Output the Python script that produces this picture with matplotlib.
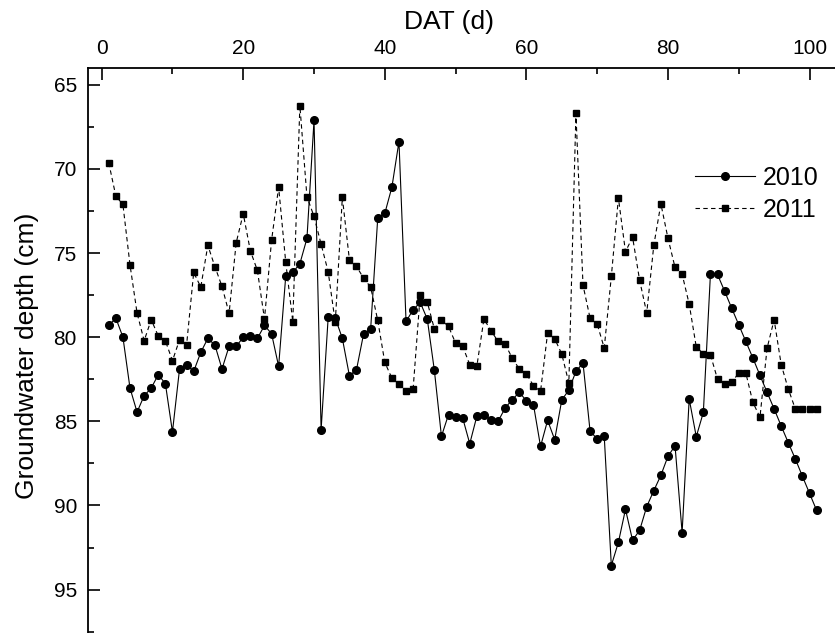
import numpy as np
import matplotlib
matplotlib.use('Agg')
import matplotlib.pyplot as plt
from matplotlib.ticker import MultipleLocator

plt.rcParams['font.family'] = ['Liberation Sans', 'DejaVu Sans']

# day after transplanting
days = np.arange(1, 102)

# groundwater depth (cm)
depth_2010 = [79.30, 78.86, 79.99, 83.02, 84.45, 83.48, 83.02, 82.23, 82.76, 85.63,
              81.89, 81.65, 82.03, 80.90, 80.07, 80.47, 81.89, 80.54, 80.54, 80.01,
              79.95, 80.07, 79.30, 79.79, 81.73, 76.39, 76.15, 75.63, 74.13, 67.10,
              85.50, 78.82, 78.86, 80.07, 82.29, 81.93, 79.81, 79.51, 72.92, 72.64,
              71.08, 68.37, 79.06, 78.37, 77.93, 78.92, 81.97, 85.89, 84.60, 84.74,
              84.80, 86.33, 84.70, 84.60, 84.94, 85.00, 84.21, 83.71, 83.28, 83.77,
              84.01, 86.49, 84.94, 86.09, 83.73, 83.14, 82.03, 81.53, 85.59, 86.04,
              85.90, 93.57, 92.19, 90.23, 92.07, 91.48, 90.07, 89.12, 88.21, 87.08,
              86.45, 91.61, 83.67, 85.91, 84.47, 76.27, 76.27, 77.26, 78.27, 79.26,
              80.25, 81.24, 82.27, 83.27, 84.26, 85.28, 86.27, 87.24, 88.27, 89.28,
              90.29]

depth_2011 = [69.63, 71.61, 72.11, 75.69, 78.56, 80.21, 78.96, 79.93, 80.21, 81.40,
              80.15, 80.45, 76.15, 77.02, 74.54, 75.81, 76.98, 78.58, 74.39, 72.66,
              74.86, 76.03, 78.92, 74.25, 71.08, 75.53, 79.08, 66.23, 71.65, 72.82,
              74.47, 76.11, 79.12, 71.69, 75.40, 75.79, 76.49, 77.02, 79.00, 81.50,
              82.43, 82.79, 83.18, 83.07, 77.48, 77.91, 79.51, 78.98, 79.36, 80.35,
              80.54, 81.63, 81.73, 78.92, 79.61, 80.25, 80.41, 81.24, 81.89, 82.17,
              82.88, 83.22, 79.75, 80.09, 81.00, 82.72, 66.68, 76.91, 78.87, 79.22,
              80.64, 76.39, 71.73, 74.92, 74.05, 76.62, 78.56, 74.54, 72.07, 74.11,
              75.85, 76.25, 78.03, 80.58, 80.98, 81.04, 82.49, 82.76, 82.68, 82.13,
              82.13, 83.87, 84.76, 80.66, 78.96, 81.63, 83.08, 84.27, 84.27, 84.27,
              84.27]

fig = plt.figure(figsize=(8.35, 6.33), dpi=100)
# the original is cropped: right and bottom spines lie outside the picture
ax = fig.add_axes([0.1054, -0.0111, 0.898, 0.9036])

ax.plot(days, depth_2010, color='black', lw=0.8, marker='o', ms=5.5, label='2010')
ax.plot(days, depth_2011, color='black', lw=0.8, ls='--', dashes=(4, 3),
        marker='s', ms=4.5, label='2011')

ax.set_xlim(-1.93, 104)
ax.set_ylim(98, 64)

ax.xaxis.tick_top()
ax.xaxis.set_label_position('top')
ax.xaxis.set_major_locator(MultipleLocator(20))
ax.xaxis.set_minor_locator(MultipleLocator(10))
ax.yaxis.set_major_locator(MultipleLocator(5))
ax.yaxis.set_minor_locator(MultipleLocator(2.5))
ax.tick_params(which='both', direction='in', width=1.2, labelsize=15)
ax.tick_params(which='major', length=8.5)
ax.tick_params(which='minor', length=4.5)
ax.tick_params(axis='x', pad=7)
ax.tick_params(axis='y', pad=8)
for s in ax.spines.values():
    s.set_linewidth(1.3)

ax.set_xlabel('DAT (d)', fontsize=19)
ax.xaxis.set_label_coords(0.481, 1.068)
ax.set_ylabel('Groundwater depth (cm)', fontsize=19)
ax.yaxis.set_label_coords(-0.066, 0.4965)

ax.legend(loc='upper left', bbox_to_anchor=(695 / 835, 0.738),
          bbox_transform=fig.transFigure, frameon=False, fontsize=18,
          borderpad=0, borderaxespad=0, handlelength=2.4, handletextpad=0.32,
          labelspacing=0.31)

plt.savefig('out.png', dpi=100)
